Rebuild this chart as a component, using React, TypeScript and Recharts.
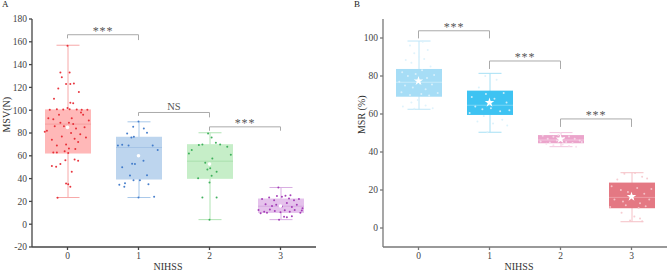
import React from "react";
import { ComposedChart, Bar, Scatter, XAxis, YAxis, ReferenceLine, Symbols } from "recharts";

const categories = ["0", "1", "2", "3"];

// panel A: MSV(N) box statistics
const msvMin = [23.4, 23.4, 4, 4];
const msvQ1 = [62, 39.2, 39.8, 9.9];
const msvMedian = [87.8, 67.3, 55.3, 15.8];
const msvQ3 = [100.7, 76.7, 70.2, 22.5];
const msvMax = [157, 89.8, 80.2, 32.2];
const msvMean = [84.9, 60, 52.7, 16];
const msvTicks = [-20, 0, 20, 40, 60, 80, 100, 120, 140, 160, 180];

// jittered raw points: [offset, value]
const msvPoints0 = [
  [0, 156.5], [0.03, 133], [-0.1, 133], [-0.08, 129], [-0.02, 123], [0.04, 123], [0.09, 123.5], [0.16, 116],
  [-0.13, 119], [-0.19, 110], [0.04, 106.5], [0.08, 106], [0, 102], [-0.25, 100.5], [-0.15, 100.8], [-0.06, 100.6],
  [0.03, 100.9], [0.13, 100.7], [0.2, 100.4], [0.28, 100.5], [0.3, 91], [-0.32, 81], [-0.29, 82], [-0.2, 92],
  [-0.1, 89], [-0.05, 86], [0.02, 89], [0.08, 88], [0.12, 84], [0.18, 79], [0.22, 96], [-0.22, 74], [-0.15, 69],
  [-0.08, 77], [0.05, 80], [0.1, 75], [0.15, 72], [0.24, 85], [-0.27, 93], [-0.12, 96], [0.06, 93], [-0.02, 70],
  [0.19, 98], [-0.18, 86], [0.26, 76], [-0.04, 64], [0.11, 66], [0.02, 66.4], [-0.2, 63], [-0.15, 63], [0.01, 62.5],
  [0.15, 55.6], [0.1, 56.8], [-0.03, 56], [-0.1, 52.7], [-0.16, 50.3], [-0.22, 51], [0.06, 46], [-0.02, 35.7],
  [0.01, 35], [0.04, 32.8], [-0.14, 23.2],
];
const msvPoints1 = [
  [-0.075, 85.5], [0, 90], [0.075, 84], [-0.16, 79.6], [0.12, 80.2], [-0.1, 76], [-0.065, 76.7], [-0.29, 69],
  [-0.23, 69.7], [0.2, 69], [0.27, 65], [-0.14, 69], [-0.09, 53], [-0.05, 52.7], [0.07, 55.6], [-0.23, 50],
  [-0.12, 42.7], [0.12, 43], [-0.27, 34.5], [-0.19, 36], [-0.07, 38.6], [0.02, 38.6], [0.14, 35], [-0.2, 32.8],
  [0.22, 24], [0, 23.4],
];
const msvPoints2 = [
  [-0.02, 79.6], [0.03, 76], [-0.1, 70], [0.09, 71.4], [0.15, 70], [-0.15, 69.5], [0.25, 68], [-0.29, 62],
  [-0.25, 65], [0.3, 61], [-0.06, 53.8], [0.04, 57.7], [0.01, 49], [-0.03, 48], [0.1, 46], [0.03, 42.4],
  [-0.16, 40.4], [-0.1, 23.4], [0.1, 23.4], [0, 36.6], [0, 4],
];
const msvPoints3 = [
  [-0.03, 32.2], [-0.26, 22], [-0.16, 23.4], [-0.09, 21], [-0.05, 24.8], [0.02, 24], [0.07, 25], [0.12, 22.5],
  [0.14, 25.5], [0.19, 21], [0.26, 22], [-0.21, 17.5], [-0.12, 16], [-0.06, 17], [0.02, 15.5], [0.09, 18.5],
  [0.16, 15], [0.23, 17], [0.31, 14], [-0.31, 12.5], [-0.23, 11], [-0.15, 13], [-0.08, 11.5], [0, 10.5],
  [0.06, 12.3], [0.13, 11], [0.2, 12.5], [0.28, 10], [-0.28, 9.5], [-0.19, 10], [0.05, 6.5], [0.09, 6],
  [0.16, 7], [-0.02, 4], [0.3, 12],
];

const msvBracketFrom = ["0", "1", "2"];
const msvBracketTo = ["1", "2", "3"];
const msvBracketY = [166.2, 98, 85.4];
const msvBracketLeftEnd = [163, 95, 82];
const msvBracketRightEnd = [161.5, 93.7, 82];
const msvBracketLabel = ["***", "NS", "***"];

// panel B: MSR (%)
const msrMin = [62.5, 50.4, 42.8, 3.3];
const msrQ1 = [69.1, 59.5, 44.6, 10.4];
const msrMedian = [76.7, 64.6, 46.3, 16.1];
const msrQ3 = [83.7, 72.3, 48.9, 23.9];
const msrMax = [98.4, 81.4, 50.2, 29.1];
const msrMean = [77.4, 66, 46.8, 16.5];
const msrTicks = [0, 20, 40, 60, 80, 100];

const msrPoints0 = [
  [-0.12, 96], [0.06, 98], [-0.06, 92], [0.13, 93.7], [0.01, 90], [-0.18, 88.4], [0.08, 89], [0.17, 85],
  [-0.1, 87], [-0.23, 82], [-0.15, 80], [-0.04, 81], [0.05, 83], [0.12, 79], [0.22, 80.5], [-0.27, 77],
  [-0.19, 75], [-0.08, 74], [0.02, 76], [0.1, 73], [0.19, 75.5], [0.27, 71], [-0.24, 71.5], [-0.12, 70],
  [0.04, 70.5], [0.15, 69.8], [-0.22, 63.9], [-0.1, 66], [0.1, 64.5], [0.2, 63], [-0.01, 67.4], [-0.06, 62.8],
];
const msrPoints1 = [
  [-0.06, 80], [0.1, 78], [-0.15, 74], [0.2, 71], [-0.25, 69], [-0.05, 70.5], [0.07, 68], [0.24, 66],
  [-0.2, 64], [-0.1, 62.5], [0.02, 63], [0.15, 61.5], [-0.28, 60.5], [0.28, 62], [-0.08, 59], [0.18, 57],
  [-0.17, 56], [0.05, 55], [-0.03, 50.4], [0.25, 54],
];
const msrPoints2 = [
  [-0.25, 48.5], [-0.18, 47], [-0.1, 48], [-0.03, 49], [0.05, 47.5], [0.12, 48.2], [0.2, 47], [0.27, 46],
  [-0.28, 45.5], [-0.15, 45], [-0.05, 46], [0.08, 45.2], [0.17, 44.8], [0.3, 45.3], [-0.1, 43.5], [0.03, 44],
  [0.12, 43.2], [0.22, 42.8], [-0.2, 44.3], [0, 50],
];
const msrPoints3 = [
  [-0.1, 28.5], [0.05, 29], [0.15, 27], [-0.2, 25.5], [0.22, 26], [-0.28, 22], [-0.15, 20], [-0.05, 19],
  [0.08, 21], [0.18, 18], [0.28, 20.5], [-0.24, 15], [-0.12, 14], [0.02, 15.5], [0.12, 13], [0.25, 15],
  [-0.3, 11], [-0.08, 12], [0.1, 10.5], [0.2, 11.5], [-0.14, 8], [0.04, 6], [0.12, 5], [-0.02, 4], [0.15, 3.5],
];

const msrBracketFrom = ["0", "1", "2"];
const msrBracketTo = ["1", "2", "3"];
const msrBracketY = [103.8, 87.9, 57.4];
const msrBracketLeftEnd = [99.8, 83.7, 53.2];
const msrBracketRightEnd = [99.8, 83.7, 53.2];
const msrBracketLabel = ["***", "***", "***"];

const FONT = "'Liberation Serif', 'Times New Roman', serif";

type PanelProps = {
  tag: string;
  yLabel: string;
  min: number[];
  q1: number[];
  median: number[];
  q3: number[];
  max: number[];
  mean: number[];
  points: number[][][];
  ticks: number[];
  domain: [number, number];
  bracketFrom: string[];
  bracketTo: string[];
  bracketY: number[];
  bracketLeft: number[];
  bracketRight: number[];
  bracketLabel: string[];
  boxFill: string[];
  whisker: string[];
  medianColor: string[];
  pointFill: string[];
  pointOpacity: number;
  starMean: boolean;
  yAxisWidth: number;
  rightMargin: number;
  yLabelX: number;
  axisColor: string;
};

function Panel(p: PanelProps) {
  const data = categories.map((name, i) => ({
    name,
    idx: i,
    min: p.min[i],
    q1: p.q1[i],
    median: p.median[i],
    q3: p.q3[i],
    max: p.max[i],
  }));
  const pts = p.points.flatMap((grp, g) => grp.map(([dx, v]) => ({ x: g + dx, y: v, g })));
  const means = p.mean.map((v, i) => ({ x: i, y: v }));

  const boxShape = (props: any) => {
    const { x, y, width, height, payload } = props;
    const top = Math.min(y, y + height);
    const px = Math.abs(height) / (payload.max - payload.min);
    const toY = (v: number) => top + (payload.max - v) * px;
    const i = payload.idx;
    const cx = x + width / 2;
    const cap = width / 4;
    return (
      <g>
        <line x1={cx} x2={cx} y1={toY(payload.max)} y2={toY(payload.min)} stroke={p.whisker[i]} strokeWidth={1} />
        <line x1={cx - cap} x2={cx + cap} y1={toY(payload.max)} y2={toY(payload.max)} stroke={p.whisker[i]} strokeWidth={1} />
        <line x1={cx - cap} x2={cx + cap} y1={toY(payload.min)} y2={toY(payload.min)} stroke={p.whisker[i]} strokeWidth={1} />
        <rect x={x} y={toY(payload.q3)} width={width} height={toY(payload.q1) - toY(payload.q3)} fill={p.boxFill[i]} />
        <line x1={x} x2={x + width} y1={toY(payload.median)} y2={toY(payload.median)} stroke={p.medianColor[i]} strokeWidth={1} />
      </g>
    );
  };

  const tick = { fontSize: 9.5, fill: "#444", fontFamily: FONT };

  return (
    <div style={{ position: "relative", width: 334, height: 272 }}>
      <div style={{ position: "absolute", left: p.starMean ? 20 : 2, top: -1, fontFamily: FONT, fontSize: 9, color: "#222" }}>
        {p.tag}
      </div>
      <ComposedChart width={334} height={272} data={data} margin={{ top: 19, right: p.rightMargin, left: 0, bottom: 0 }}>
        <XAxis
          xAxisId="cat"
          dataKey="name"
          height={25}
          tickSize={3}
          tick={tick}
          stroke={p.axisColor}
          strokeWidth={1.3}
          label={(lp: any) => {
            const vb = lp.viewBox;
            return (
              <text x={vb.x + vb.width / 2 - 6} y={vb.y + vb.height - 2} textAnchor="middle" fontSize={10} fontFamily={FONT} fill="#333">
                NIHSS
              </text>
            );
          }}
        />
        <XAxis xAxisId="num" type="number" dataKey="x" domain={[-0.5, 3.5]} hide />
        <YAxis
          type="number"
          domain={p.domain}
          ticks={p.ticks}
          width={p.yAxisWidth}
          tickSize={3}
          tick={tick}
          stroke={p.axisColor}
          strokeWidth={1.3}
          allowDataOverflow
          label={(lp: any) => {
            const vb = lp.viewBox;
            const cy = vb.y + vb.height * 0.42;
            return (
              <text
                x={p.yLabelX}
                y={cy}
                transform={`rotate(-90, ${p.yLabelX}, ${cy})`}
                textAnchor="middle"
                dominantBaseline="central"
                fontSize={10}
                fontFamily={FONT}
                fill="#333"
              >
                {p.yLabel}
              </text>
            );
          }}
        />
        <Bar
          xAxisId="cat"
          dataKey={(d: any) => [d.min, d.max]}
          barSize={46}
          shape={boxShape}
          isAnimationActive={false}
        />
        <Scatter
          xAxisId="num"
          data={pts}
          dataKey="y"
          isAnimationActive={false}
          shape={(sp: any) => (
            <circle cx={sp.cx} cy={sp.cy} r={1} fill={p.pointFill[sp.payload.g]} fillOpacity={p.pointOpacity} />
          )}
        />
        <Scatter
          xAxisId="num"
          data={means}
          dataKey="y"
          isAnimationActive={false}
          shape={(sp: any) =>
            p.starMean ? (
              <Symbols type="star" size={28} cx={sp.cx} cy={sp.cy} fill="#ffffff" />
            ) : (
              <circle cx={sp.cx} cy={sp.cy} r={1.8} fill="#ffffff" />
            )
          }
        />
        {p.bracketFrom.map((from, i) => (
          <ReferenceLine
            key={`h${i}`}
            xAxisId="cat"
            segment={[
              { x: from, y: p.bracketY[i] },
              { x: p.bracketTo[i], y: p.bracketY[i] },
            ]}
            stroke="#aaa"
            strokeWidth={1}
            label={{
              value: p.bracketLabel[i],
              position: "top",
              offset: p.bracketLabel[i] === "NS" ? 2 : 0,
              fontSize: p.bracketLabel[i] === "NS" ? 10.5 : 12,
              letterSpacing: p.bracketLabel[i] === "NS" ? 0 : 0.8,
              fontFamily: FONT,
              fill: "#555",
            }}
          />
        ))}
        {p.bracketFrom.map((from, i) => (
          <ReferenceLine
            key={`l${i}`}
            xAxisId="cat"
            segment={[
              { x: from, y: p.bracketY[i] },
              { x: from, y: p.bracketLeft[i] },
            ]}
            stroke="#aaa"
            strokeWidth={1}
          />
        ))}
        {p.bracketTo.map((to, i) => (
          <ReferenceLine
            key={`r${i}`}
            xAxisId="cat"
            segment={[
              { x: to, y: p.bracketY[i] },
              { x: to, y: p.bracketRight[i] },
            ]}
            stroke="#aaa"
            strokeWidth={1}
          />
        ))}
      </ComposedChart>
    </div>
  );
}

export default function App() {
  return (
    <div style={{ position: "absolute", left: 0, top: 0, width: 668, height: 272, display: "flex", background: "#fff" }}>
      <Panel
        tag="A"
        yLabel="MSV(N)"
        min={msvMin}
        q1={msvQ1}
        median={msvMedian}
        q3={msvQ3}
        max={msvMax}
        mean={msvMean}
        points={[msvPoints0, msvPoints1, msvPoints2, msvPoints3]}
        ticks={msvTicks}
        domain={[-20, 180]}
        bracketFrom={msvBracketFrom}
        bracketTo={msvBracketTo}
        bracketY={msvBracketY}
        bracketLeft={msvBracketLeftEnd}
        bracketRight={msvBracketRightEnd}
        bracketLabel={msvBracketLabel}
        boxFill={["#FFB8B8", "#BDD5EE", "#C6EEC8", "#E5C2EC"]}
        whisker={["#F7A8A8", "#A9C9EA", "#B0E4B4", "#D9AEE2"]}
        medianColor={["#F5A0A0", "#A6C4E6", "#A9E0AE", "#D6A9E0"]}
        pointFill={["#E5202A", "#3572C6", "#2FA84F", "#9C2DB0"]}
        pointOpacity={0.9}
        starMean={false}
        yAxisWidth={32}
        rightMargin={18}
        yLabelX={7}
        axisColor="#444"
      />
      <Panel
        tag="B"
        yLabel="MSR (%)"
        min={msrMin}
        q1={msrQ1}
        median={msrMedian}
        q3={msrQ3}
        max={msrMax}
        mean={msrMean}
        points={[msrPoints0, msrPoints1, msrPoints2, msrPoints3]}
        ticks={msrTicks}
        domain={[-10, 110]}
        bracketFrom={msrBracketFrom}
        bracketTo={msrBracketTo}
        bracketY={msrBracketY}
        bracketLeft={msrBracketLeftEnd}
        bracketRight={msrBracketRightEnd}
        bracketLabel={msrBracketLabel}
        boxFill={["#A6DDF6", "#3EC3F2", "#EBA4CB", "#E47883"]}
        whisker={["#BFE6F8", "#A6E0F5", "#F2C4DE", "#F5C0C6"]}
        medianColor={["#C8EBFA", "#7AD6F6", "#F4C5DF", "#EE9BA4"]}
        pointFill={["#DDF2FC", "#D8F1FB", "#F7DDEB", "#F6C8CD"]}
        pointOpacity={0.9}
        starMean={true}
        yAxisWidth={49}
        rightMargin={1}
        yLabelX={28}
        axisColor="#777"
      />
    </div>
  );
}
